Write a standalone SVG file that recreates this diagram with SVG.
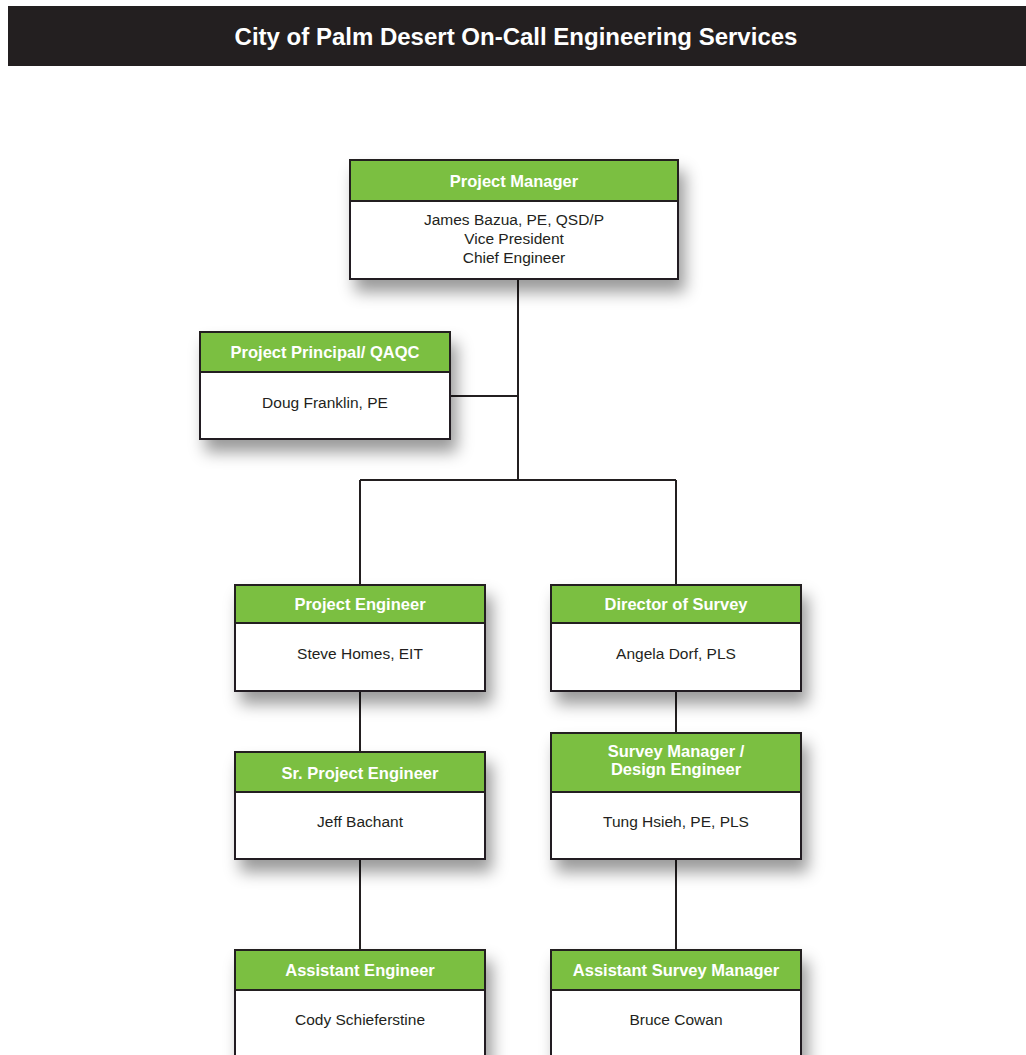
<svg xmlns="http://www.w3.org/2000/svg" width="1026" height="1055" viewBox="0 0 1026 1055">
<defs>
<filter id="sh" x="-20%" y="-20%" width="150%" height="170%">
<feDropShadow dx="6" dy="12" stdDeviation="8" flood-color="#000" flood-opacity="0.4"/>
</filter>
<style>
.box{fill:#fff;stroke:#231f20;stroke-width:2}
.hd{fill:#7bbf41;stroke:#231f20;stroke-width:2}
.ht{font-family:"Liberation Sans",Arial,sans-serif;font-weight:bold;font-size:16.5px;fill:#fff;text-anchor:middle}
.nt{font-family:"Liberation Sans",Arial,sans-serif;font-size:15.5px;fill:#231f20;text-anchor:middle}
.ln{stroke:#231f20;stroke-width:2;fill:none}
</style>
</defs>
<rect x="0" y="0" width="1026" height="1055" fill="#fff"/>
<rect x="8" y="6" width="1018" height="60" fill="#231f20"/>
<text x="516" y="45" font-family="'Liberation Sans',Arial,sans-serif" font-weight="bold" font-size="24" fill="#fff" text-anchor="middle">City of Palm Desert On-Call Engineering Services</text>
<g id="connectors">
<path class="ln" d="M518 279V480M450 396H518M360 480H676M360 480V585M676 480V585M360 691V752M676 691V733M360 859V950M676 859V950"/>
</g>
<g id="pm">
<rect class="box" x="350" y="160" width="328" height="119" filter="url(#sh)"/>
<rect class="hd" x="350" y="160" width="328" height="41"/>
<text class="ht" x="514" y="187">Project Manager</text>
<text class="nt" x="514" y="225">James Bazua, PE, QSD/P</text>
<text class="nt" x="514" y="244">Vice President</text>
<text class="nt" x="514" y="263">Chief Engineer</text>
</g>
<g id="pp">
<rect class="box" x="200" y="332" width="250" height="107" filter="url(#sh)"/>
<rect class="hd" x="200" y="332" width="250" height="40"/>
<text class="ht" x="325" y="358">Project Principal/ QAQC</text>
<text class="nt" x="325" y="408">Doug Franklin, PE</text>
</g>
<g id="pe">
<rect class="box" x="235" y="585" width="250" height="106" filter="url(#sh)"/>
<rect class="hd" x="235" y="585" width="250" height="38"/>
<text class="ht" x="360" y="610">Project Engineer</text>
<text class="nt" x="360" y="659">Steve Homes, EIT</text>
</g>
<g id="ds">
<rect class="box" x="551" y="585" width="250" height="106" filter="url(#sh)"/>
<rect class="hd" x="551" y="585" width="250" height="38"/>
<text class="ht" x="676" y="610">Director of Survey</text>
<text class="nt" x="676" y="659">Angela Dorf, PLS</text>
</g>
<g id="spe">
<rect class="box" x="235" y="752" width="250" height="107" filter="url(#sh)"/>
<rect class="hd" x="235" y="752" width="250" height="40"/>
<text class="ht" x="360" y="779">Sr. Project Engineer</text>
<text class="nt" x="360" y="827">Jeff Bachant</text>
</g>
<g id="sm">
<rect class="box" x="551" y="733" width="250" height="126" filter="url(#sh)"/>
<rect class="hd" x="551" y="733" width="250" height="59"/>
<text class="ht" x="676" y="757">Survey Manager /</text>
<text class="ht" x="676" y="775">Design Engineer</text>
<text class="nt" x="676" y="827">Tung Hsieh, PE, PLS</text>
</g>
<g id="ae">
<rect class="box" x="235" y="950" width="250" height="120" filter="url(#sh)"/>
<rect class="hd" x="235" y="950" width="250" height="40"/>
<text class="ht" x="360" y="976">Assistant Engineer</text>
<text class="nt" x="360" y="1025">Cody Schieferstine</text>
</g>
<g id="asm">
<rect class="box" x="551" y="950" width="250" height="120" filter="url(#sh)"/>
<rect class="hd" x="551" y="950" width="250" height="40"/>
<text class="ht" x="676" y="976">Assistant Survey Manager</text>
<text class="nt" x="676" y="1025">Bruce Cowan</text>
</g>
</svg>
